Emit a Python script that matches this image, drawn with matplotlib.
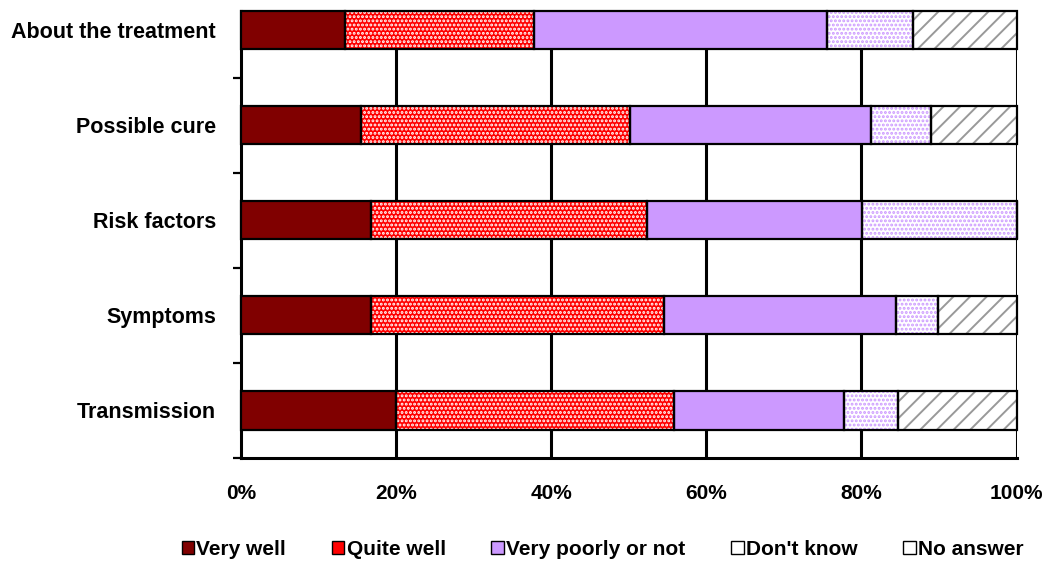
import matplotlib
matplotlib.use("Agg")
import matplotlib.pyplot as plt
from matplotlib.patches import Patch
import numpy as np

categories = ["About the treatment", "Possible cure", "Risk factors", "Symptoms", "Transmission"]
series_names = ["Very well", "Quite well", "Very poorly or not", "Don't know", "No answer"]
very_well = [13.4, 15.5, 16.8, 16.8, 20.0]
quite_well = [24.4, 34.6, 35.6, 37.8, 35.8]
very_poorly = [37.8, 31.1, 27.7, 29.9, 22.0]
dont_know = [11.1, 7.8, 19.9, 5.4, 6.9]
no_answer = [13.3, 11.0, 0.0, 10.1, 15.3]
x_ticks = [0, 20, 40, 60, 80, 100]
x_tick_labels = ["0%", "20%", "40%", "60%", "80%", "100%"]

plt.rcParams['font.family'] = ['Liberation Sans', 'DejaVu Sans']
plt.rcParams['font.weight'] = 'bold'
plt.rcParams['hatch.linewidth'] = 1.4

# style per series: (face, hatch, hatch colour)
styles = [
    ("#800000", None, None),
    ("#FF0000", "....", "white"),
    ("#CC99FF", None, None),
    ("white", "....", "#CC99FF"),
    ("white", "//", "#999999"),
]

fig = plt.figure(figsize=(10.48, 5.62), dpi=100)
ax = fig.add_axes([0.230, 0.185, 0.740, 0.795])

y = np.arange(len(categories))
h = 0.40
data = [very_well, quite_well, very_poorly, dont_know, no_answer]
left = np.zeros(len(categories))
for vals, (face, hatch, hcol) in zip(data, styles):
    vals = np.array(vals)
    ax.barh(y, vals, left=left, height=h, color=face, edgecolor='none',
            linewidth=0, zorder=3, clip_on=False)
    if hatch:
        ax.barh(y, vals, left=left, height=h, facecolor='none', edgecolor=hcol,
                hatch=hatch, linewidth=0, zorder=4, clip_on=False)
    ax.barh(y, vals, left=left, height=h, facecolor='none', edgecolor='black',
            linewidth=1.6, zorder=5, clip_on=False)
    left = left + vals

for xv in x_ticks[1:]:
    ax.axvline(xv, color='black', linewidth=2.2, zorder=1)

ax.set_xlim(0, 100)
ax.set_ylim(4.5, -0.2)
ax.set_xticks(x_ticks)
ax.set_xticklabels(x_tick_labels, fontsize=15, fontweight='bold')
ax.tick_params(axis='x', length=0, pad=19)
ax.set_yticks(y)
ax.set_yticklabels(categories, fontsize=15.5, fontweight='bold')
ax.tick_params(axis='y', which='major', length=0, pad=18)
ax.set_yticks(np.arange(0.5, 5.0, 1.0), minor=True)
ax.tick_params(axis='y', which='minor', length=6, width=1.6, direction='out', color='black')

for s in ['top', 'right']:
    ax.spines[s].set_visible(False)
for s in ['left', 'bottom']:
    ax.spines[s].set_linewidth(2.2)
    ax.spines[s].set_color('black')

handles = []
for name, (face, hatch, hcol) in zip(series_names, styles):
    if hatch:
        handles.append(Patch(facecolor=face, edgecolor=hcol, hatch=hatch, linewidth=0, label=name))
    else:
        handles.append(Patch(facecolor=face, edgecolor='black', linewidth=1.0, label=name))
leg = fig.legend(handles=handles, loc='center', bbox_to_anchor=(0.575, 0.022), ncol=5,
                 frameon=False, fontsize=15, handlelength=0.6, handleheight=0.6,
                 handletextpad=0.1, columnspacing=2.2, borderaxespad=0)
for t in leg.get_texts():
    t.set_fontweight('bold')
# black borders for hatched legend markers
for hp, (face, hatch, hcol) in zip(leg.legend_handles, styles):
    if hatch:
        hp.set_linewidth(1.0)
        hp.set_edgecolor('black')
        hp.set_hatch(None)

fig.savefig("out.png", dpi=100)
